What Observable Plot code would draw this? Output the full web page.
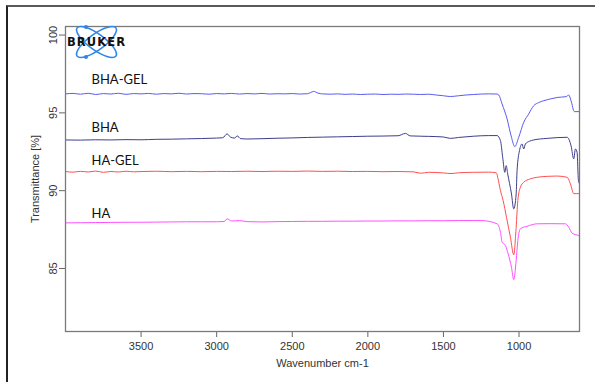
<!DOCTYPE html>
<html><head><meta charset="utf-8">
<script src="https://cdn.jsdelivr.net/npm/d3@7"></script>
<script src="https://cdn.jsdelivr.net/npm/@observablehq/plot@0.6"></script>
<style>
body{margin:0;background:#fff;}
#wrap{position:relative;width:595px;height:382px;overflow:hidden;background:#fff;}
#frame{position:absolute;left:6px;top:5px;width:620px;height:420px;border-left:2px solid #222;border-top:2px solid #5a5a5a;pointer-events:none;}
#chart{position:absolute;left:0;top:0;}
</style></head><body>
<div id="wrap"><div id="chart"></div><div id="frame"></div></div>
<script>
// Wavenumbers (cm-1) and transmittance (%) for each spectrum
const bhaGelWn = [4000,3950,3900,3850,3800,3750,3700,3650,3600,3550,3500,3450,3400,3350,3300,3250,3200,3150,3100,3050,3000,2950,2900,2850,2800,2750,2700,2650,2600,2550,2500,2450,2400,2380,2358,2330,2300,2250,2200,2150,2100,2050,2000,1950,1900,1850,1800,1750,1700,1650,1600,1550,1500,1454,1400,1350,1300,1250,1200,1145,1134,1112,1079,1050,1028,1002,969,936,903,870,837,790,748,689,671,656,634,600];
const bhaGelT  = [96.22,96.25,96.20,96.26,96.18,96.24,96.21,96.26,96.19,96.24,96.22,96.25,96.20,96.24,96.22,96.26,96.21,96.24,96.23,96.20,96.24,96.22,96.25,96.21,96.24,96.22,96.25,96.21,96.23,96.22,96.24,96.21,96.23,96.30,96.38,96.27,96.22,96.20,96.22,96.19,96.21,96.18,96.20,96.21,96.18,96.20,96.19,96.21,96.20,96.18,96.20,96.15,96.10,96.05,96.10,96.15,96.18,96.21,96.22,96.21,96.15,95.57,94.61,93.43,92.83,93.43,94.39,94.93,95.46,95.66,95.78,95.90,95.99,96.04,96.15,95.78,95.08,95.08];

const bhaWn = [4000,3900,3800,3700,3600,3500,3400,3300,3200,3100,3000,2960,2931,2910,2880,2865,2840,2800,2700,2600,2500,2400,2300,2200,2100,2000,1900,1800,1751,1720,1650,1600,1500,1454,1400,1300,1200,1145,1123,1108,1094,1085,1075,1050,1035,1019,1013,997,980,969,958,930,903,814,682,656,638,627,616,607,600];
const bhaT  = [93.26,93.25,93.27,93.26,93.28,93.27,93.30,93.31,93.33,93.35,93.38,93.40,93.65,93.45,93.38,93.52,93.34,93.32,93.34,93.37,93.39,93.42,93.44,93.46,93.48,93.50,93.51,93.53,93.68,93.52,93.50,93.49,93.45,93.36,93.42,93.50,93.54,93.54,93.22,92.14,91.18,91.61,91.08,89.79,88.83,89.79,91.29,92.57,93.00,92.68,93.00,93.18,93.26,93.36,93.43,92.89,92.04,92.68,92.46,90.65,90.45];

const haGelWn = [4000,3950,3900,3850,3800,3750,3700,3650,3600,3550,3500,3400,3300,3200,3100,3000,2900,2800,2700,2600,2500,2400,2300,2200,2100,2000,1900,1800,1700,1650,1600,1500,1450,1400,1300,1200,1150,1141,1123,1105,1083,1057,1035,1019,1008,991,969,925,880,814,750,682,660,638,600];
const haGelT  = [91.23,91.19,91.24,91.20,91.26,91.18,91.23,91.20,91.25,91.21,91.23,91.25,91.22,91.24,91.22,91.24,91.23,91.25,91.23,91.25,91.24,91.26,91.24,91.25,91.23,91.24,91.22,91.23,91.21,91.12,91.18,91.14,91.10,91.15,91.18,91.19,91.15,90.86,90.01,89.36,88.29,87.01,85.88,87.65,89.36,90.22,90.54,90.76,90.86,90.92,90.94,90.86,90.44,89.81,89.81];

const haWn = [4000,3900,3800,3700,3600,3500,3400,3300,3200,3100,3000,2950,2931,2900,2850,2800,2700,2600,2500,2400,2300,2200,2100,2000,1900,1800,1700,1600,1500,1400,1300,1250,1145,1123,1112,1090,1072,1050,1035,1019,1008,991,947,880,800,693,671,649,600];
const haT  = [87.93,87.94,87.95,87.96,87.97,87.97,87.98,87.99,88.00,88.00,88.00,88.02,88.19,88.05,88.08,88.01,87.99,88.01,88.02,88.03,88.03,88.04,88.04,88.05,88.05,88.06,88.06,88.07,88.07,88.08,88.08,88.08,87.87,87.33,86.69,86.48,85.94,85.08,84.29,85.51,86.79,87.55,87.71,87.87,87.88,87.87,87.65,87.27,87.12];

const seriesNames  = ["BHA-GEL","BHA","HA-GEL","HA"];
const seriesColors = ["#5b5bf2","#3e3e8e","#ff4f4f","#ff50ff"];
const labelWn = 3828;
const labelT  = [97.13,94.07,91.93,88.51];
const xTicks = [3500,3000,2500,2000,1500,1000];
const yTicks = [85,90,95,100];

const wnArrays = [bhaGelWn, bhaWn, haGelWn, haWn];
const tArrays  = [bhaGelT, bhaT, haGelT, haT];

const lineMarks = seriesNames.map((name, i) =>
  Plot.line(wnArrays[i].map((w, j) => ({wn: w, T: tArrays[i][j]})),
    {x: "wn", y: "T", stroke: seriesColors[i], strokeWidth: 1, curve: "monotone-x"}));

const labels = seriesNames.map((name, i) => ({name, wn: labelWn, T: labelT[i]}));

const chart = Plot.plot({
  width: 595, height: 382,
  marginLeft: 65, marginTop: 26, marginRight: 16, marginBottom: 51,
  style: {fontFamily: "'Liberation Sans', Arial, sans-serif", fontSize: "11px", color: "#333", background: "transparent"},
  x: {domain: [4000, 600]},
  y: {domain: [80.95, 100.55]},
  marks: [
    Plot.axisX({ticks: xTicks, tickFormat: d => String(d), tickSize: 6, tickPadding: 5, stroke: "#666", fill: "#333",
      label: "Wavenumber cm-1", labelAnchor: "center", labelArrow: "none", labelOffset: 35}),
    Plot.axisY({ticks: yTicks, tickFormat: d => String(d), tickSize: 6, tickPadding: 3, tickRotate: -90, stroke: "#666", fill: "#333",
      label: "Transmittance [%]", labelAnchor: "center", labelArrow: "none", labelOffset: 34}),
    ...lineMarks,
    Plot.text(labels, {x: "wn", y: "T", text: "name", textAnchor: "start", fill: "#111",
      fontFamily: "Lato, 'Open Sans', sans-serif", fontSize: 13}),
    Plot.frame({stroke: "#7a7a7a", strokeWidth: 1.3})
  ]
});
document.getElementById("chart").appendChild(chart);

// Bruker logo drawn on top of the plot area
const svg = d3.select(chart);
const logo = svg.append("g").attr("transform", "translate(96.5,42)");
[36, -36].forEach(a => logo.append("ellipse").attr("rx", 24).attr("ry", 8)
  .attr("transform", `rotate(${a})`).attr("fill", "none").attr("stroke", "#2f86e8").attr("stroke-width", 1.6));
[[-10.5, -15], [-10.5, 15]].forEach(([cx, cy]) => logo.append("circle").attr("cx", cx).attr("cy", cy).attr("r", 2).attr("fill", "#2f86e8"));
logo.append("text").attr("x", 0).attr("y", 0).attr("dy", "0.36em").attr("text-anchor", "middle")
  .attr("font-family", "'DejaVu Sans', sans-serif").attr("font-weight", "bold").attr("font-size", 11.5)
  .attr("letter-spacing", 1.1).attr("fill", "#111").text("BRUKER");
</script>
</body></html>
